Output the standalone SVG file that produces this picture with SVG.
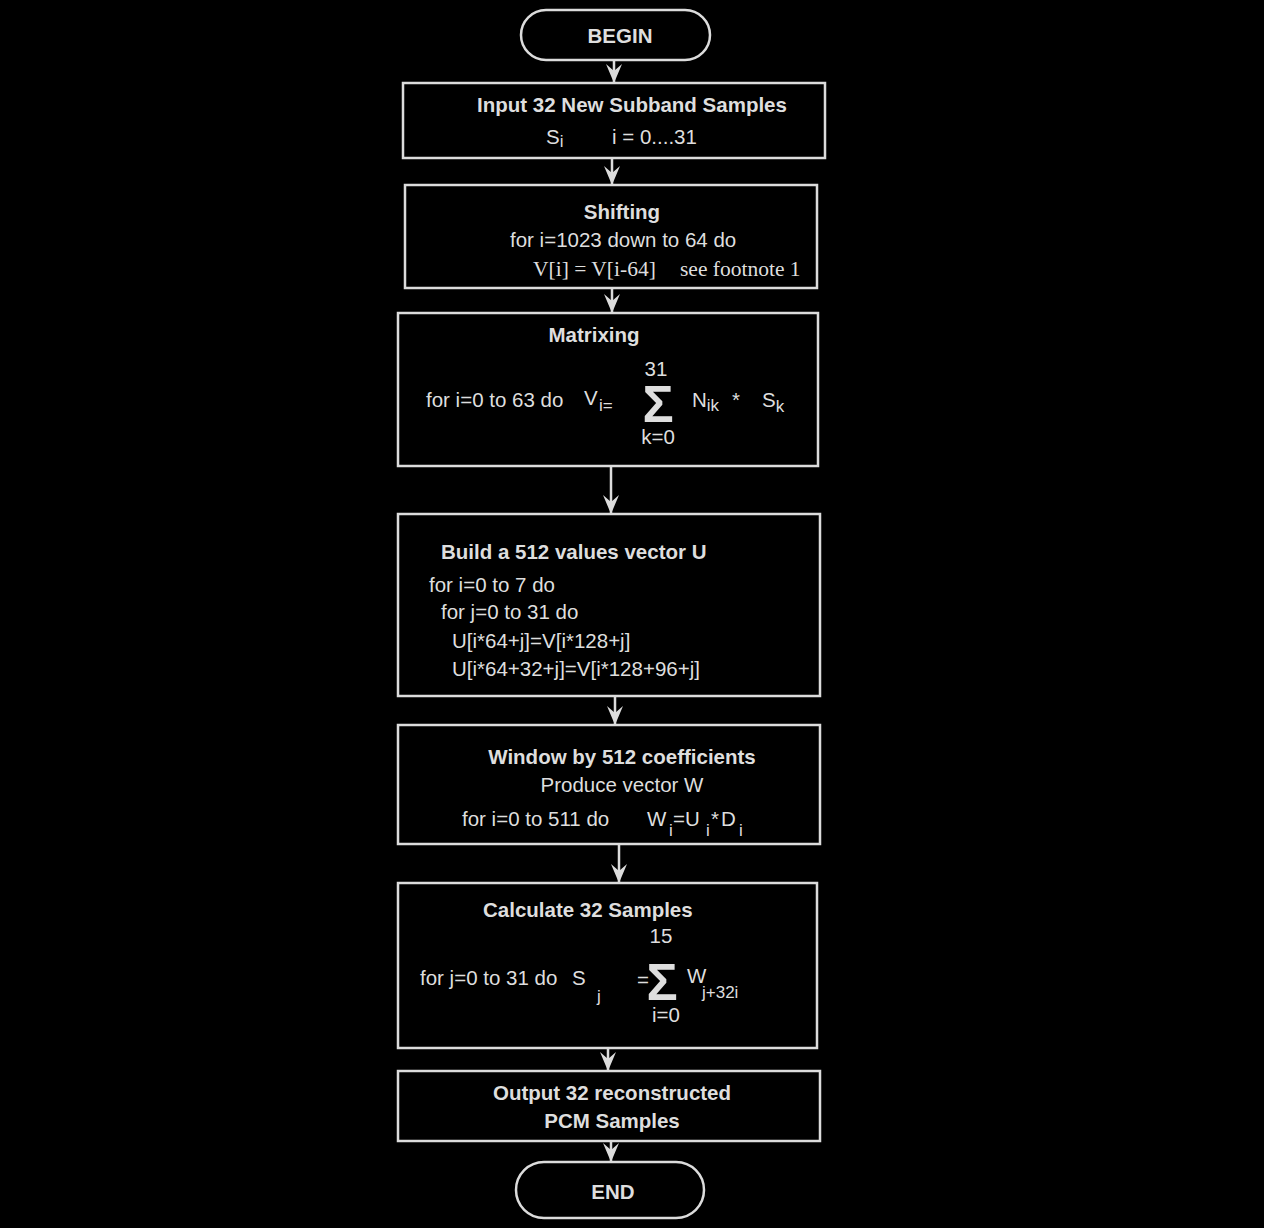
<svg xmlns="http://www.w3.org/2000/svg" width="1264" height="1228" viewBox="0 0 1264 1228">
<defs>
<style>
.bg{fill:#000}
.box{fill:#000;stroke:#dcdcdc;stroke-width:2.5}
.t{fill:#dedede;font-family:"Liberation Sans",Arial,sans-serif;font-size:20.5px}
.b{font-weight:bold}
.s{fill:#dedede;font-family:"Liberation Serif","Times New Roman",serif;font-size:21.5px}
.sub{font-size:17px}
.sig{font-weight:bold;font-size:52px}
.c{text-anchor:middle}
.ln{stroke:#dcdcdc;stroke-width:2.5;fill:none}
</style>
<marker id="ah" viewBox="-20 -10 22 20" refX="0" refY="0" markerWidth="22" markerHeight="20" markerUnits="userSpaceOnUse" orient="auto">
<path d="M0,0 L-19,-8 L-12,0 L-19,8 Z" fill="#dcdcdc"/>
</marker>
</defs>
<rect class="bg" x="0" y="0" width="1264" height="1228"/>

<g id="connectors">
<line class="ln" x1="614" y1="60" x2="614" y2="83" marker-end="url(#ah)"/>
<line class="ln" x1="612" y1="158" x2="612" y2="185" marker-end="url(#ah)"/>
<line class="ln" x1="612" y1="288" x2="612" y2="313" marker-end="url(#ah)"/>
<line class="ln" x1="611" y1="466" x2="611" y2="514" marker-end="url(#ah)"/>
<line class="ln" x1="615" y1="696" x2="615" y2="725" marker-end="url(#ah)"/>
<line class="ln" x1="619" y1="844" x2="619" y2="883" marker-end="url(#ah)"/>
<line class="ln" x1="608" y1="1048" x2="608" y2="1071" marker-end="url(#ah)"/>
<line class="ln" x1="611" y1="1141" x2="611" y2="1162" marker-end="url(#ah)"/>
</g>

<g id="begin">
<rect class="box" x="521" y="10" width="189" height="50" rx="25" ry="25"/>
<text class="t b c" x="620" y="43">BEGIN</text>
</g>

<g id="input">
<rect class="box" x="403" y="83" width="422" height="75"/>
<text class="t b c" x="632" y="112">Input 32 New Subband Samples</text>
<text class="t" x="546" y="144">S<tspan class="sub" dy="3">i</tspan></text>
<text class="t" x="612" y="144">i = 0....31</text>
</g>

<g id="shifting">
<rect class="box" x="405" y="185" width="412" height="103"/>
<text class="t b c" x="622" y="219">Shifting</text>
<text class="t" x="510" y="247">for i=1023 down to 64 do</text>
<text class="s" x="533" y="276">V[i] = V[i-64]</text>
<text class="s" x="680" y="276">see footnote 1</text>
</g>

<g id="matrixing">
<rect class="box" x="398" y="313" width="420" height="153"/>
<text class="t b c" x="594" y="342">Matrixing</text>
<text class="t c" x="656" y="376">31</text>
<text class="t" x="426" y="407">for i=0 to 63 do</text>
<text class="t" x="584" y="405">V</text>
<text class="t sub" x="599" y="411">i=</text>
<text class="t sig c" x="658" y="422">Σ</text>
<text class="t c" x="658" y="444">k=0</text>
<text class="t" x="692" y="407">N<tspan class="sub" dy="4">ik</tspan></text>
<text class="t" x="732" y="407">*</text>
<text class="t" x="762" y="407">S<tspan class="sub" dy="5">k</tspan></text>
</g>

<g id="build">
<rect class="box" x="398" y="514" width="422" height="182"/>
<text class="t b" x="441" y="559">Build a 512 values vector U</text>
<text class="t" x="429" y="592">for i=0 to 7 do</text>
<text class="t" x="441" y="619">for j=0 to 31 do</text>
<text class="t" x="452" y="648">U[i*64+j]=V[i*128+j]</text>
<text class="t" x="452" y="676">U[i*64+32+j]=V[i*128+96+j]</text>
</g>

<g id="window">
<rect class="box" x="398" y="725" width="422" height="119"/>
<text class="t b c" x="622" y="764">Window by 512 coefficients</text>
<text class="t c" x="622" y="792">Produce vector W</text>
<text class="t" x="462" y="826">for i=0 to 511 do</text>
<text class="t" x="647" y="826">W</text>
<text class="t sub" x="669" y="836">i</text>
<text class="t" x="673" y="826">=U</text>
<text class="t sub" x="706" y="836">i</text>
<text class="t" x="711" y="826">*</text>
<text class="t" x="721" y="826">D</text>
<text class="t sub" x="739" y="836">i</text>
</g>

<g id="calculate">
<rect class="box" x="398" y="883" width="419" height="165"/>
<text class="t b" x="483" y="917">Calculate 32 Samples</text>
<text class="t c" x="661" y="943">15</text>
<text class="t" x="420" y="985">for j=0 to 31 do</text>
<text class="t" x="572" y="985">S</text>
<text class="t sub" x="597" y="1002">j</text>
<text class="t" x="637" y="987">=</text>
<text class="t sig c" x="662" y="1000">Σ</text>
<text class="t c" x="666" y="1022">i=0</text>
<text class="t" x="687" y="983">W</text>
<text class="t sub" x="702" y="998">j+32i</text>
</g>

<g id="output">
<rect class="box" x="398" y="1071" width="422" height="70"/>
<text class="t b c" x="612" y="1100">Output 32 reconstructed</text>
<text class="t b c" x="612" y="1128">PCM Samples</text>
</g>

<g id="end">
<rect class="box" x="516" y="1162" width="188" height="56" rx="28" ry="28"/>
<text class="t b c" x="613" y="1199">END</text>
</g>
</svg>
